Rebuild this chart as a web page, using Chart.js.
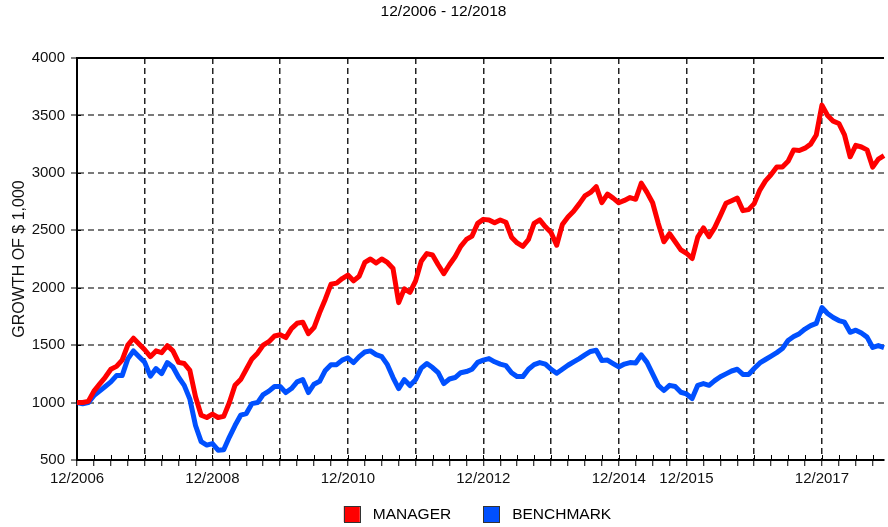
<!DOCTYPE html>
<html><head><meta charset="utf-8">
<script src="https://cdn.jsdelivr.net/npm/chart.js@4"></script>
<style>html,body{margin:0;padding:0;background:#fff;overflow:hidden}#wrap{width:888px;height:527px}</style>
</head><body><div id="wrap"><canvas id="c" width="888" height="527"></canvas></div>
<script>
const months = [
'12/2006','01/2007','02/2007','03/2007','04/2007','05/2007','06/2007','07/2007','08/2007','09/2007','10/2007','11/2007',
'12/2007','01/2008','02/2008','03/2008','04/2008','05/2008','06/2008','07/2008','08/2008','09/2008','10/2008','11/2008',
'12/2008','01/2009','02/2009','03/2009','04/2009','05/2009','06/2009','07/2009','08/2009','09/2009','10/2009','11/2009',
'12/2009','01/2010','02/2010','03/2010','04/2010','05/2010','06/2010','07/2010','08/2010','09/2010','10/2010','11/2010',
'12/2010','01/2011','02/2011','03/2011','04/2011','05/2011','06/2011','07/2011','08/2011','09/2011','10/2011','11/2011',
'12/2011','01/2012','02/2012','03/2012','04/2012','05/2012','06/2012','07/2012','08/2012','09/2012','10/2012','11/2012',
'12/2012','01/2013','02/2013','03/2013','04/2013','05/2013','06/2013','07/2013','08/2013','09/2013','10/2013','11/2013',
'12/2013','01/2014','02/2014','03/2014','04/2014','05/2014','06/2014','07/2014','08/2014','09/2014','10/2014','11/2014',
'12/2014','01/2015','02/2015','03/2015','04/2015','05/2015','06/2015','07/2015','08/2015','09/2015','10/2015','11/2015',
'12/2015','01/2016','02/2016','03/2016','04/2016','05/2016','06/2016','07/2016','08/2016','09/2016','10/2016','11/2016',
'12/2016','01/2017','02/2017','03/2017','04/2017','05/2017','06/2017','07/2017','08/2017','09/2017','10/2017','11/2017',
'12/2017','01/2018','02/2018','03/2018','04/2018','05/2018','06/2018','07/2018','08/2018','09/2018','10/2018','11/2018'
];
const manager = [
1000,1000,1010,1100,1160,1220,1290,1315,1370,1500,1560,1510,
1460,1400,1450,1435,1495,1450,1350,1340,1280,1050,890,870,
900,870,880,1000,1150,1200,1290,1380,1430,1500,1530,1580,
1590,1566,1644,1690,1700,1600,1653,1783,1900,2030,2040,2080,
2110,2060,2100,2220,2250,2215,2250,2220,2167,1870,1990,1960,
2060,2230,2297,2285,2200,2123,2200,2270,2360,2420,2450,2560,
2595,2590,2565,2590,2570,2440,2390,2360,2420,2560,2590,2530,
2480,2370,2550,2615,2665,2730,2800,2830,2880,2740,2815,2780,
2740,2760,2785,2770,2910,2830,2740,2560,2400,2470,2400,2330,
2300,2254,2440,2520,2445,2523,2628,2735,2758,2780,2671,2680,
2732,2850,2930,2985,3050,3050,3100,3200,3194,3215,3250,3330,
3590,3500,3450,3430,3330,3140,3240,3225,3200,3050,3120,3150
];
const benchmark = [
1000,990,1000,1061,1100,1140,1180,1235,1235,1380,1450,1400,
1350,1230,1296,1252,1348,1310,1220,1150,1030,800,660,630,
643,585,590,700,800,890,904,991,1000,1070,1100,1140,
1140,1087,1122,1180,1200,1087,1160,1185,1280,1330,1330,1370,
1390,1348,1400,1440,1450,1418,1400,1330,1218,1122,1200,1148,
1200,1300,1340,1305,1260,1165,1205,1218,1260,1270,1290,1350,
1370,1383,1355,1335,1322,1260,1226,1226,1290,1330,1348,1335,
1290,1255,1290,1325,1355,1383,1415,1445,1455,1366,1370,1340,
1310,1335,1348,1345,1415,1350,1250,1150,1105,1150,1140,1090,
1075,1035,1150,1165,1150,1191,1225,1250,1275,1290,1245,1244,
1296,1345,1375,1405,1435,1470,1540,1575,1600,1640,1670,1690,
1827,1775,1740,1714,1700,1612,1630,1605,1570,1480,1496,1479
];
const xTickLabels = ['12/2006','12/2008','12/2010','12/2012','12/2014','12/2015','12/2017'];
const yMin = 500, yMax = 4000, yStep = 500;
const chartTitle = '12/2006 - 12/2018';
const yTitle = 'GROWTH OF $ 1,000';
const seriesNames = ['MANAGER', 'BENCHMARK'];
const seriesColors = ['#ff0000', '#0050ff'];

const FONT = '"Liberation Sans", Arial, sans-serif';

const decor = {
  id: 'decor',
  beforeDatasetsDraw(chart) {
    const {ctx, chartArea: a, scales: {x, y}} = chart;
    ctx.save();
    ctx.strokeStyle = '#000';
    ctx.lineWidth = 1;
    x.ticks.forEach((t, i) => {
      if (i % 3 !== 0) return;
      const px = Math.round(x.getPixelForTick(i)) + 0.5;
      ctx.beginPath(); ctx.moveTo(px, a.bottom - 5); ctx.lineTo(px, a.bottom); ctx.stroke();
    });
    y.ticks.forEach((t, i) => {
      const py = Math.round(y.getPixelForTick(i)) + 0.5;
      ctx.beginPath(); ctx.moveTo(a.left, py); ctx.lineTo(a.left + 4, py); ctx.stroke();
    });
    ctx.lineWidth = 2;
    ctx.beginPath(); ctx.moveTo(a.left, a.top); ctx.lineTo(a.right, a.top); ctx.stroke();
    ctx.restore();
  },
  afterDraw(chart) {
    const {ctx, chartArea: a} = chart;
    ctx.save();
    ctx.font = '15.5px ' + FONT;
    ctx.textBaseline = 'middle';
    const box = 16, gapText = 13, gapItem = 32;
    const items = chart.data.datasets.map(d => ({label: d.label, color: d.borderColor, w: ctx.measureText(d.label).width}));
    const total = items.reduce((s, it) => s + box + gapText + it.w, 0) + gapItem * (items.length - 1);
    let xx = (a.left + a.right) / 2 - 3 - total / 2;
    const cy = 514;
    items.forEach(it => {
      ctx.fillStyle = it.color;
      ctx.fillRect(xx, cy - box / 2, box, box);
      ctx.strokeStyle = '#333';
      ctx.lineWidth = 1;
      ctx.strokeRect(Math.round(xx) + 0.5, Math.round(cy - box / 2) + 0.5, box, box);
      ctx.fillStyle = '#000';
      ctx.fillText(it.label, xx + box + gapText, cy + 1);
      xx += box + gapText + it.w + gapItem;
    });
    ctx.restore();
  }
};

new Chart(document.getElementById('c'), {
  type: 'line',
  data: {
    labels: months,
    datasets: [
      {label: seriesNames[0], data: manager, borderColor: seriesColors[0], backgroundColor: seriesColors[0], borderWidth: 5, pointRadius: 0, tension: 0, borderJoinStyle: 'round', fill: false},
      {label: seriesNames[1], data: benchmark, borderColor: seriesColors[1], backgroundColor: seriesColors[1], borderWidth: 5, pointRadius: 0, tension: 0, borderJoinStyle: 'round', fill: false}
    ]
  },
  options: {
    responsive: false,
    animation: false,
    layout: {padding: {top: 0, right: 1, bottom: 0, left: 0}},
    plugins: {
      legend: {display: false},
      tooltip: {enabled: false},
      title: {display: true, text: chartTitle, color: '#000', font: {family: FONT, size: 15.5, weight: 'normal'}, padding: {top: 2.7, bottom: 36.7}}
    },
    scales: {
      x: {
        type: 'category',
        afterFit: s => { s.height = 67; },
        border: {display: true, color: '#000', width: 2, dash: [6, 4]},
        grid: {
          drawOnChartArea: true, drawTicks: true, tickLength: 6, tickWidth: 1, lineWidth: 1.5,
          color: c => (c.index % 12 === 0 ? '#222' : 'rgba(0,0,0,0)'),
          tickColor: c => (c.index % 3 === 0 ? '#000' : 'rgba(0,0,0,0)')
        },
        ticks: {
          autoSkip: false, maxRotation: 0, minRotation: 0, padding: 4, color: '#111',
          font: {family: FONT, size: 15},
          callback: function (v) { const l = this.getLabelForValue(v); return xTickLabels.includes(l) ? l : ''; }
        }
      },
      y: {
        min: yMin, max: yMax,
        afterFit: s => { s.width = 77; },
        border: {display: true, color: '#000', width: 2, dash: [6, 4]},
        grid: {color: '#7a7a7a', lineWidth: 2, tickLength: 6, tickWidth: 1, tickColor: '#000'},
        ticks: {stepSize: yStep, padding: 6, color: '#111', font: {family: FONT, size: 15}, callback: v => String(v)},
        title: {display: true, text: yTitle, color: '#111', font: {family: FONT, size: 16}, padding: {top: 10, bottom: 0}}
      }
    }
  },
  plugins: [decor]
});
</script></body></html>
